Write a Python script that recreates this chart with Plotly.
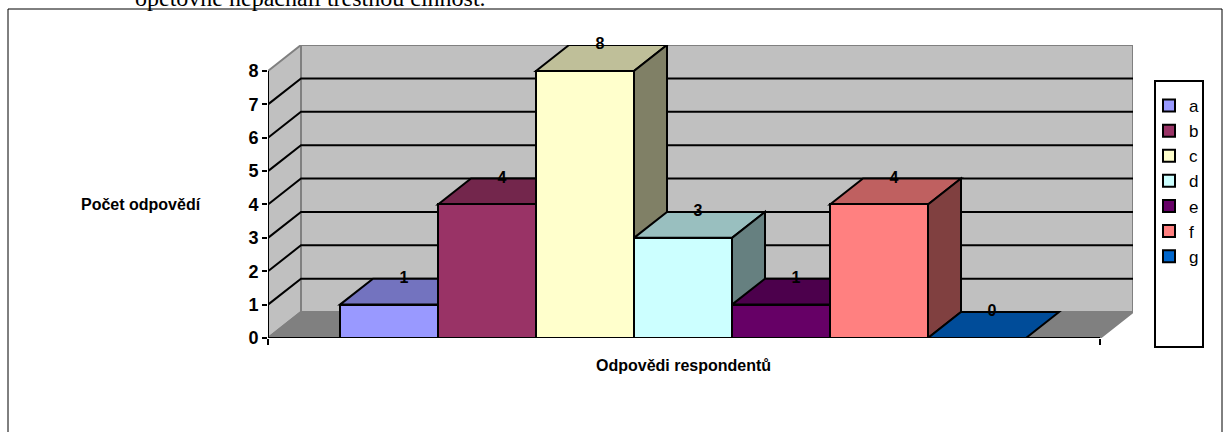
import plotly.graph_objects as go

series_names = ["a", "b", "c", "d", "e", "f", "g"]
series_values = [1, 4, 8, 3, 1, 4, 0]
front_colors = ["#9999FF", "#993366", "#FFFFCC", "#CCFFFF", "#660066", "#FF8080", "#0066CC"]
y_ticks = [0, 1, 2, 3, 4, 5, 6, 7, 8]

W, H = 1225, 432
L, R, T, B = 268, 1133, 45, 338   # plot area in the page
UX, UY = 98.0, 33.4               # px per category / per count
DX, DY = 33 / UX, 26 / UY         # 3D depth in data units
X0 = -0.5 - 72 / UX               # axis start
X1 = 6.5 + 74 / UX                # axis end
BLACK = "#000000"


def shade(hex_color, factor):
    r, g, b = (int(hex_color[i:i + 2], 16) for i in (1, 3, 5))
    return f"rgb({round(r * factor)},{round(g * factor)},{round(b * factor)})"


def poly(points, fill, line=BLACK, width=2):
    path = "M" + " L".join(f"{x},{y}" for x, y in points) + " Z"
    return dict(type="path", path=path, xref="x", yref="y", layer="below",
                fillcolor=fill, line=dict(color=line, width=width))


def seg(points, color=BLACK, width=2):
    path = "M" + " L".join(f"{x},{y}" for x, y in points)
    return dict(type="path", path=path, xref="x", yref="y", layer="below",
                line=dict(color=color, width=width))


ymax = y_ticks[-1]
shapes = [
    # walls and floor
    poly([(X0 + DX, DY), (X1 + DX, DY), (X1 + DX, ymax + DY), (X0 + DX, ymax + DY)], "#C0C0C0", "#808080"),
    poly([(X0, 0), (X0 + DX, DY), (X0 + DX, ymax + DY), (X0, ymax)], "#C0C0C0", "#808080"),
    poly([(X0, 0), (X1, 0), (X1 + DX, DY), (X0 + DX, DY)], "#808080", "#808080"),
]
for t in y_ticks[1:-1]:
    shapes.append(seg([(X0, t), (X0 + DX, t + DY), (X1 + DX, t + DY)]))
shapes.append(seg([(X0, 0), (X0, ymax)]))
shapes.append(seg([(X0, 0), (X1, 0)]))

for i, (v, c) in enumerate(zip(series_values, front_colors)):
    xa, xb = i - 0.5, i + 0.5
    shapes.append(poly([(xa, v), (xb, v), (xb + DX, v + DY), (xa + DX, v + DY)], shade(c, 0.75)))
    if v > 0:
        shapes.append(poly([(xb, 0), (xb + DX, DY), (xb + DX, v + DY), (xb, v)], shade(c, 0.5)))

# outer frame and legend box (paper coordinates)
def px(x):
    return (x - L) / (R - L)


def py(y):
    return (B - y) / (B - T)


shapes.append(dict(type="rect", xref="paper", yref="paper", x0=px(8), x1=px(1222), y0=py(440), y1=py(9),
                   line=dict(color=BLACK, width=1), layer="below"))
shapes.append(dict(type="rect", xref="paper", yref="paper", x0=px(1155), x1=px(1203), y0=py(347), y1=py(81),
                   line=dict(color=BLACK, width=2), fillcolor="#FFFFFF", layer="below"))

fig = go.Figure()
for i, (name, v, c) in enumerate(zip(series_names, series_values, front_colors)):
    fig.add_trace(go.Bar(x=[i], y=[v], width=1, name=name, legendgroup=name,
                         marker=dict(color=c, line=dict(color=BLACK, width=2)),
                         hoverinfo="name+y"))

fig.add_trace(go.Scatter(
    x=[i + DX * 0.45 for i in range(len(series_values))],
    y=[v + DY for v in series_values],
    mode="text", text=[str(v) for v in series_values], textposition="middle center",
    textfont=dict(family="Liberation Sans", size=16, color=BLACK),
    texttemplate="<b>%{text}</b>", showlegend=False, cliponaxis=False, hoverinfo="skip"))

annotations = [
    dict(text="<b>Počet odpovědí</b>", xref="paper", yref="paper", x=px(141), y=py(204),
         xanchor="center", yanchor="middle", showarrow=False,
         font=dict(family="Liberation Sans", size=16, color=BLACK)),
    dict(text="<b>Odpovědi respondentů</b>", xref="paper", yref="paper", x=px(683), y=py(365),
         xanchor="center", yanchor="middle", showarrow=False,
         font=dict(family="Liberation Sans", size=16, color=BLACK)),
    dict(text="opětovně nepáchali trestnou činnost.", xref="paper", yref="paper", x=px(133), y=py(13),
         xanchor="left", yanchor="bottom", showarrow=False,
         font=dict(family="Liberation Serif", size=24, color=BLACK)),
]

fig.update_layout(
    width=W, height=H, autosize=False,
    margin=dict(l=L, r=W - R, t=T, b=H - B, pad=0),
    paper_bgcolor="#FFFFFF", plot_bgcolor="rgba(0,0,0,0)",
    barmode="overlay", bargap=0, shapes=shapes, annotations=annotations,
    font=dict(family="Liberation Sans", color=BLACK),
    xaxis=dict(range=[X0, X1 + DX], tickmode="array", tickvals=[X0, X1], ticktext=["", ""],
               ticks="outside", ticklen=6, tickwidth=2, tickcolor=BLACK,
               showgrid=False, zeroline=False, showline=False),
    yaxis=dict(range=[0, ymax + DY], tickmode="array", tickvals=y_ticks,
               ticktext=[f"<b>{t}</b>" for t in y_ticks],
               ticks="outside", ticklen=5, tickwidth=2, tickcolor=BLACK,
               tickfont=dict(family="Liberation Sans", size=18, color=BLACK),
               showgrid=False, zeroline=False, showline=False),
    legend=dict(x=px(1149), y=py(88), xanchor="left", yanchor="top",
                traceorder="normal", tracegroupgap=18, bgcolor="rgba(0,0,0,0)",
                font=dict(family="Liberation Sans", size=17, color=BLACK),
                itemclick=False, itemdoubleclick=False),
    showlegend=True,
)
fig.for_each_trace(lambda t: None)

fig.write_html("out.html", config={"displayModeBar": False},
               post_script="document.body.style.margin='0';document.body.style.overflow='hidden';")
